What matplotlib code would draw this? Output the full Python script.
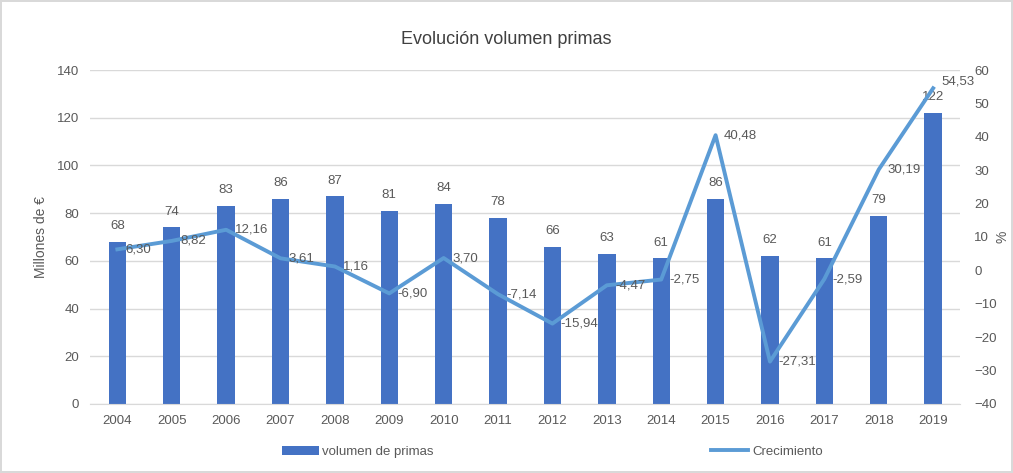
import numpy as np
import matplotlib.pyplot as plt

years = ['2004', '2005', '2006', '2007', '2008', '2009', '2010', '2011',
         '2012', '2013', '2014', '2015', '2016', '2017', '2018', '2019']
volumen = [68, 74, 83, 86, 87, 81, 84, 78, 66, 63, 61, 86, 62, 61, 79, 122]
crecimiento = [6.30, 8.82, 12.16, 3.61, 1.16, -6.90, 3.70, -7.14,
               -15.94, -4.47, -2.75, 40.48, -27.31, -2.59, 30.19, 54.53]

plt.rcParams['font.family'] = ['Liberation Sans', 'DejaVu Sans']
txt = '#595959'
bar_c = '#4472C4'
line_c = '#5B9BD5'

fig = plt.figure(figsize=(10.13, 4.73), dpi=100)
fig.patch.set_edgecolor('#d9d9d9')
fig.patch.set_linewidth(1.5)
ax = fig.add_axes([0.089, 0.146, 0.859, 0.706])
x = np.arange(len(years))

bars = ax.bar(x, volumen, width=0.32, color=bar_c, label='volumen de primas', zorder=2)
ax.set_ylim(0, 140)
ax.set_yticks(range(0, 141, 20))
ax.set_xlim(-0.5, len(years) - 0.5)
ax.set_xticks(x)
ax.set_xticklabels(years)
ax.grid(axis='y', color='#d9d9d9', linewidth=1, zorder=0)
ax.set_axisbelow(True)
for s in ['top', 'right', 'left']:
    ax.spines[s].set_visible(False)
ax.spines['bottom'].set_color('#d9d9d9')
ax.tick_params(length=0, colors=txt, labelsize=9.5, pad=8)
ax.set_ylabel('Millones de €', color=txt, fontsize=10, labelpad=6)
for xi, v in zip(x, volumen):
    ax.annotate(str(v), (xi, v), xytext=(0, 7), textcoords='offset points',
                ha='center', va='bottom', color=txt, fontsize=9.5)

ax2 = ax.twinx()
line, = ax2.plot(x, crecimiento, color=line_c, linewidth=2.8, label='Crecimiento', zorder=3)
ax2.set_ylim(-40, 60)
ax2.set_yticks(range(-40, 61, 10))
for s in ['top', 'right', 'left', 'bottom']:
    ax2.spines[s].set_visible(False)
ax2.tick_params(length=0, colors=txt, labelsize=9.5, pad=10)
ax2.set_ylabel('%', color=txt, fontsize=10)
ax2.yaxis.set_label_coords(1.04, 0.5)
for xi, v in zip(x, crecimiento):
    dy = 5 if xi == len(x) - 1 else 0
    ax2.annotate(f'{v:.2f}'.replace('.', ','), (xi, v), xytext=(6, dy),
                 textcoords='offset points', ha='left', va='center',
                 color=txt, fontsize=9.5)

fig.suptitle('Evolución volumen primas', y=0.935, fontsize=13, color='#404040')
fig.legend([bars, line], ['volumen de primas', 'Crecimiento'], loc='center',
           bbox_to_anchor=(0.545, 0.045), ncol=2, frameon=False, fontsize=9.5,
           columnspacing=21, handlelength=2.8, handletextpad=0.3, labelcolor=txt)

fig.savefig('out.png', dpi=100)
